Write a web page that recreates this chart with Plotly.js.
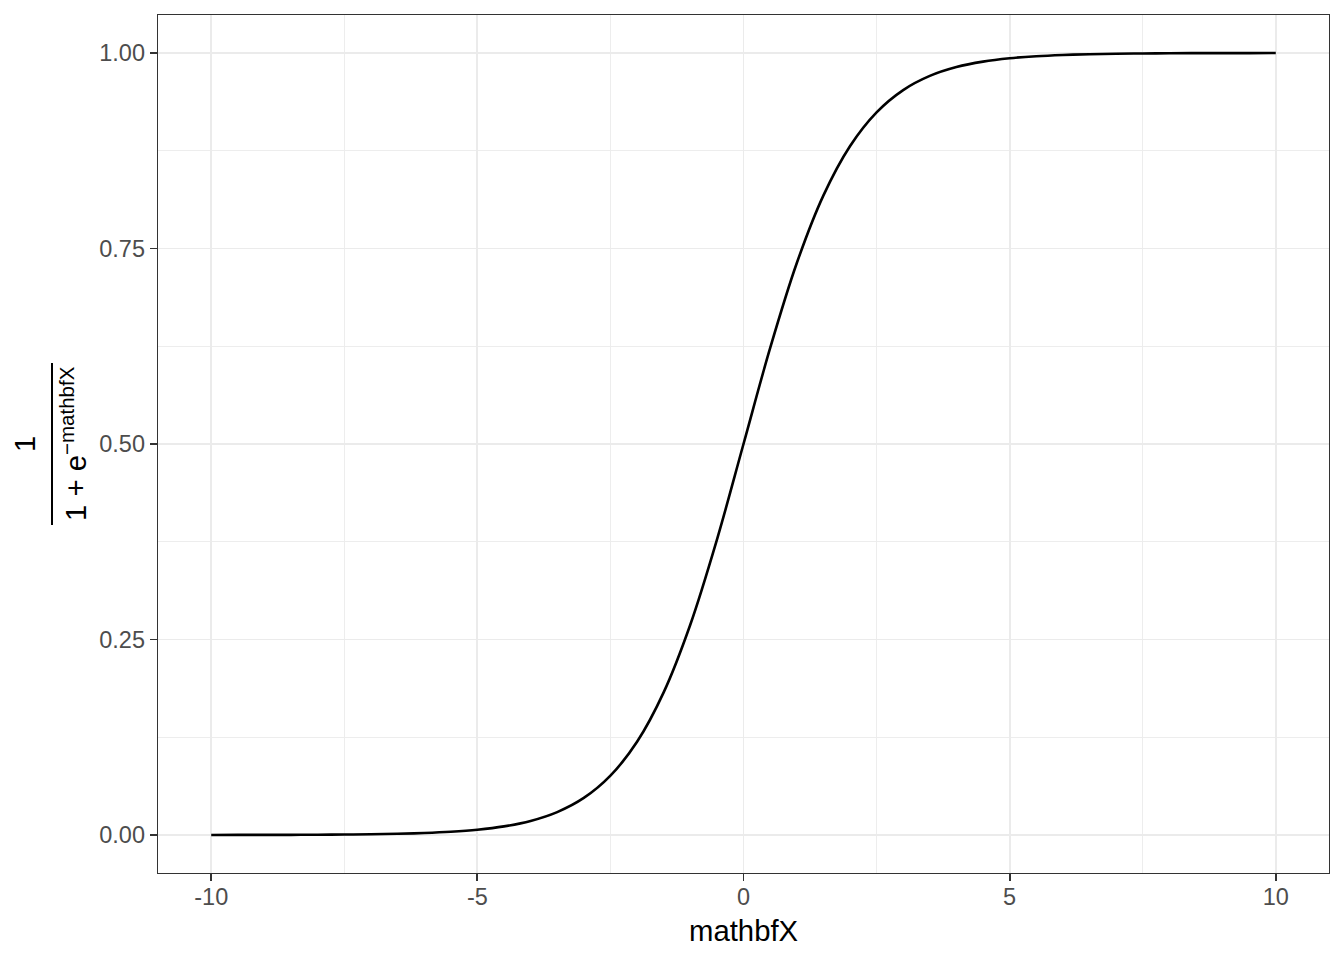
<!DOCTYPE html>
<html>
<head>
<meta charset="utf-8">
<script src="https://cdn.plot.ly/plotly-3.0.1.min.js"></script>
<style>html,body{margin:0;padding:0;background:#fff;}#chart{width:1344px;height:960px;}</style>
</head>
<body>
<div id="chart"></div>
<script>
var xValues = [-10,-9.5,-9,-8.5,-8,-7.5,-7,-6.5,-6,-5.5,-5,-4.5,-4,-3.5,-3,-2.5,-2,-1.5,-1,-0.5,0,
  0.5,1,1.5,2,2.5,3,3.5,4,4.5,5,5.5,6,6.5,7,7.5,8,8.5,9,9.5,10];
var yValues = [0.0000,0.0001,0.0001,0.0002,0.0003,0.0006,0.0009,0.0015,0.0025,0.0041,0.0067,0.0110,0.0180,0.0293,0.0474,0.0759,0.1192,0.1824,0.2689,0.3775,0.5000,
  0.6225,0.7311,0.8176,0.8808,0.9241,0.9526,0.9707,0.9820,0.9890,0.9933,0.9959,0.9975,0.9985,0.9991,0.9994,0.9997,0.9998,0.9999,0.9999,1.0000];

var xTickVals = [-10,-5,0,5,10];
var xTickText = ["-10","-5","0","5","10"];
var xMinorVals = [-7.5,-2.5,2.5,7.5];
var yTickVals = [0,0.25,0.5,0.75,1];
var yTickText = ["0.00","0.25","0.50","0.75","1.00"];
var yMinorVals = [0.125,0.375,0.625,0.875];

var W = 1344, H = 960, ML = 158, MR = 15, MT = 15, MB = 87;
var PW = W - ML - MR, PH = H - MT - MB;
function px2x(px){ return (px - ML) / PW; }
function px2y(py){ return (H - MB - py) / PH; }

var font = "Liberation Sans, Arial, sans-serif";
var tickFont = {family: font, size: 23.5, color: "#4D4D4D"};

var axisCommon = {
  showline: true, mirror: true, linecolor: "#333333", linewidth: 1.3,
  ticks: "outside", ticklen: 7, tickwidth: 1.8, tickcolor: "#333333",
  showgrid: true, gridcolor: "#EBEBEB", gridwidth: 1.8,
  zeroline: false, tickfont: tickFont, tickmode: "array"
};

var trace = {
  x: xValues, y: yValues, type: "scatter", mode: "lines",
  line: {color: "#000000", width: 2.6, shape: "spline", smoothing: 1},
  hoverinfo: "skip", showlegend: false
};

var layout = {
  width: W, height: H,
  margin: {l: ML, r: MR, t: MT, b: MB, pad: 0},
  paper_bgcolor: "#ffffff", plot_bgcolor: "#ffffff",
  xaxis: Object.assign({}, axisCommon, {
    range: [-11, 11], tickvals: xTickVals, ticktext: xTickText, ticklabelstandoff: -5,
    minor: {tickmode: "array", tickvals: xMinorVals, showgrid: true, gridcolor: "#EBEBEB", gridwidth: 0.9, ticks: ""}
  }),
  yaxis: Object.assign({}, axisCommon, {
    range: [-0.0486, 1.0486], tickvals: yTickVals, ticktext: yTickText,
    minor: {tickmode: "array", tickvals: yMinorVals, showgrid: true, gridcolor: "#EBEBEB", gridwidth: 0.9, ticks: ""}
  }),
  annotations: [
    {text: "mathbfX", xref: "paper", yref: "paper", x: 0.5, y: px2y(930),
     xanchor: "center", yanchor: "middle", showarrow: false,
     font: {family: font, size: 29.3, color: "#000000"}},
    {text: "1", xref: "paper", yref: "paper", x: px2x(24), y: px2y(444),
     xanchor: "center", yanchor: "middle", showarrow: false, textangle: -90,
     font: {family: font, size: 29.3, color: "#000000"}},
    {text: "1 + e<sup>\u2212mathbfX</sup>", xref: "paper", yref: "paper", x: px2x(73), y: px2y(444),
     xanchor: "center", yanchor: "middle", showarrow: false, textangle: -90,
     font: {family: font, size: 29.3, color: "#000000"}}
  ],
  shapes: [
    {type: "line", xref: "paper", yref: "paper", x0: px2x(52), x1: px2x(52), y0: px2y(363), y1: px2y(525),
     line: {color: "#000000", width: 2}}
  ]
};

Plotly.newPlot("chart", [trace], layout, {staticPlot: true, displayModeBar: false});
</script>
</body>
</html>
